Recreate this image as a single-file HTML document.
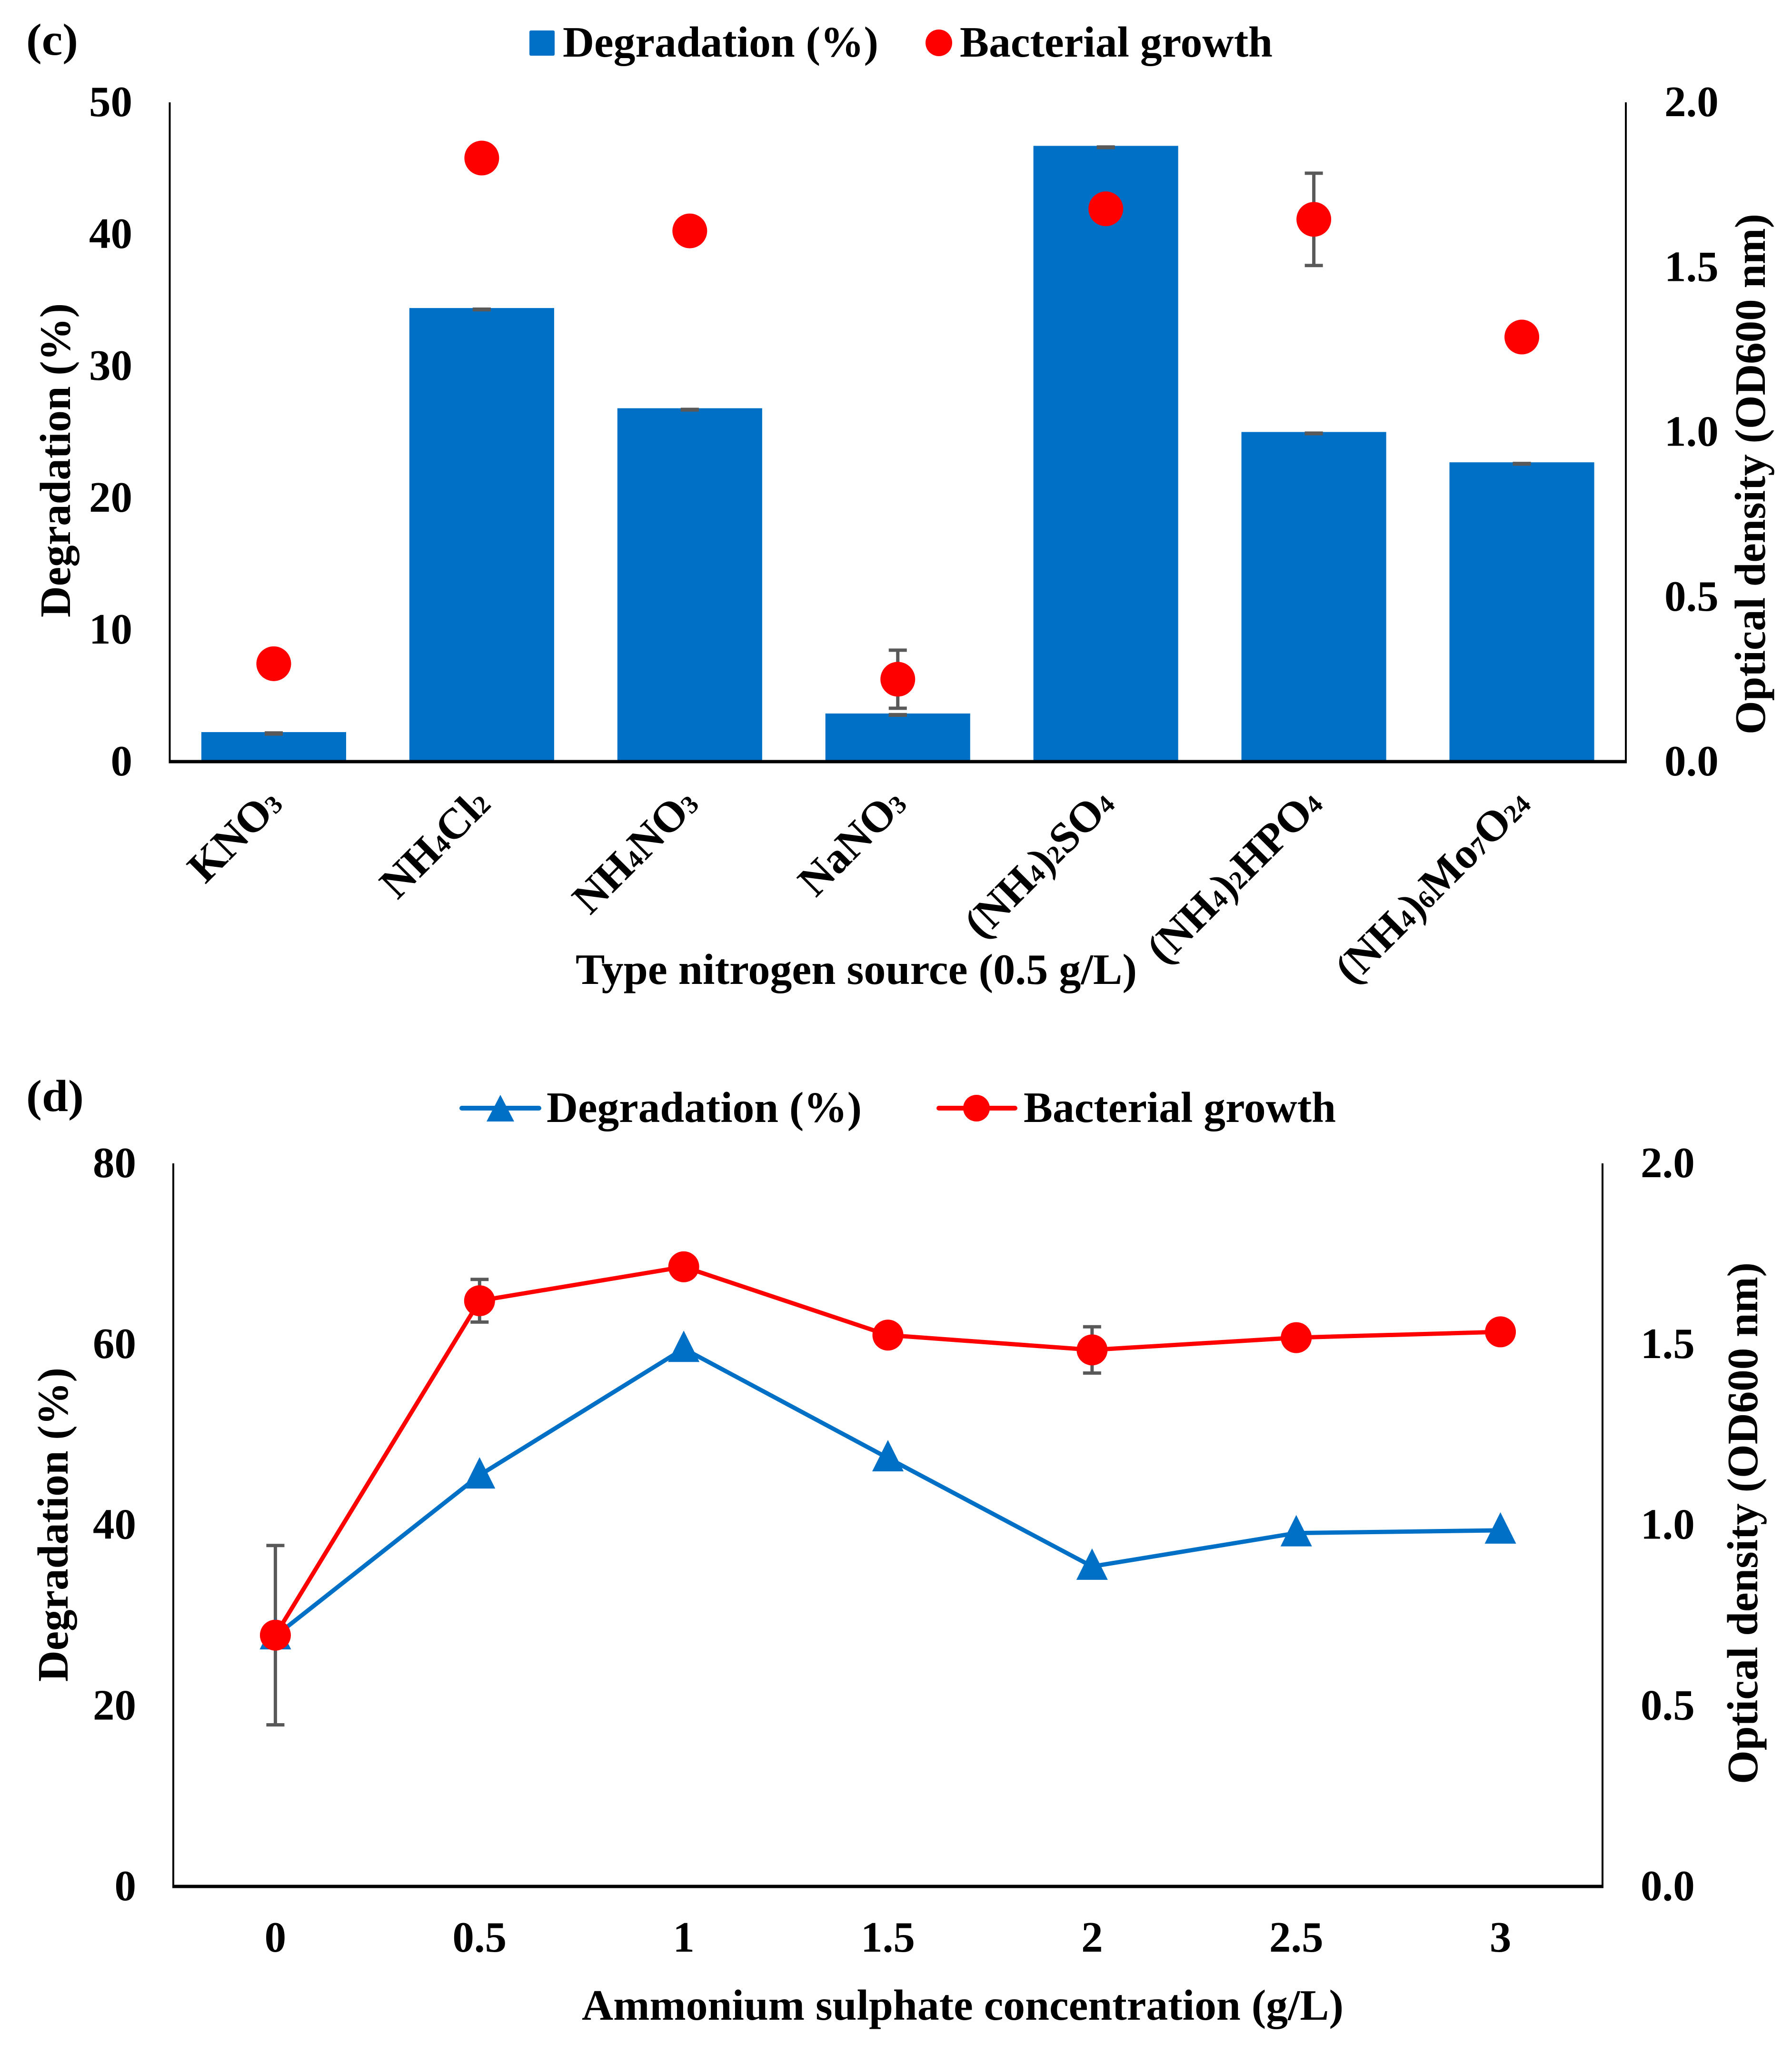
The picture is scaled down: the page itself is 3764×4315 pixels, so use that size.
<!DOCTYPE html>
<html lang="en">
<head>
<meta charset="utf-8">
<title>Degradation and bacterial growth charts</title>
<style>
html,body{margin:0;padding:0;background:#fff;}
svg{display:block;}
text{font-family:"Liberation Serif",serif;font-weight:bold;font-size:91px;fill:#000;}
</style>
</head>
<body>
<svg id="figure" xmlns="http://www.w3.org/2000/svg" width="3764" height="4315" viewBox="0 0 3764 4315">
  <rect x="0" y="0" width="3764" height="4315" fill="#fff"/>

  <g id="chart-c">
    <text x="55" y="115" style="font-size:94px" textLength="109" lengthAdjust="spacingAndGlyphs">(c)</text>
    <rect x="1112" y="64" width="53" height="53" rx="3" fill="#0070c6"/>
    <text x="1182" y="119" textLength="663" lengthAdjust="spacingAndGlyphs">Degradation (%)</text>
    <circle cx="1972" cy="90" r="28" fill="#ff0000"/>
    <text x="2016" y="119" textLength="657" lengthAdjust="spacingAndGlyphs">Bacterial growth</text>
    <text transform="translate(147 1297) rotate(-90)" textLength="660" lengthAdjust="spacingAndGlyphs">Degradation (%)</text>
    <text transform="translate(3707 1543) rotate(-90)" textLength="1094" lengthAdjust="spacingAndGlyphs">Optical density (OD600 nm)</text>
    <text x="1209" y="2067" textLength="1179" lengthAdjust="spacingAndGlyphs">Type nitrogen source (0.5 g/L)</text>
  </g>

  <g id="chart-d">
    <text x="55" y="2334" style="font-size:94px" textLength="121" lengthAdjust="spacingAndGlyphs">(d)</text>
    <line x1="970" y1="2328" x2="1132" y2="2328" stroke="#0070c6" stroke-width="10" stroke-linecap="round"/>
    <polygon points="1051,2300 1022,2356 1080,2356" fill="#0070c6"/>
    <text x="1148" y="2357" textLength="662" lengthAdjust="spacingAndGlyphs">Degradation (%)</text>
    <line x1="1972" y1="2328" x2="2132" y2="2328" stroke="#ff0000" stroke-width="10" stroke-linecap="round"/>
    <circle cx="2051" cy="2328" r="28" fill="#ff0000"/>
    <text x="2150" y="2357" textLength="656" lengthAdjust="spacingAndGlyphs">Bacterial growth</text>
    <text transform="translate(142 3533) rotate(-90)" textLength="660" lengthAdjust="spacingAndGlyphs">Degradation (%)</text>
    <text transform="translate(3691 3748) rotate(-90)" textLength="1096" lengthAdjust="spacingAndGlyphs">Optical density (OD600 nm)</text>
    <text x="1222" y="4243" textLength="1600" lengthAdjust="spacingAndGlyphs">Ammonium sulphate concentration (g/L)</text>
  </g>
</svg>

<script>
// ----- Chart (c) data -----
var cCategories = [
  [['K',0],['N',0],['O',0],['3',1]],
  [['N',0],['H',0],['4',1],['Cl',0],['2',1]],
  [['N',0],['H',0],['4',1],['N',0],['O',0],['3',1]],
  [['N',0],['a',0],['N',0],['O',0],['3',1]],
  [['(',0],['N',0],['H',0],['4',1],[')',0],['2',1],['S',0],['O',0],['4',1]],
  [['(',0],['N',0],['H',0],['4',1],[')',0],['2',1],['H',0],['P',0],['O',0],['4',1]],
  [['(',0],['N',0],['H',0],['4',1],[')',0],['6',1],['M',0],['o',0],['7',1],['O',0],['24',1]]
];
var cDegradation = [2.24, 34.4, 26.8, 3.65, 46.7, 25.0, 22.7];
var cDegradationErr = [0.06, 0.04, 0.04, 0.04, 0.04, 0.04, 0.04];
var cGrowth = [0.297, 1.831, 1.61, 0.25, 1.677, 1.645, 1.288];
var cGrowthErr = [0, 0, 0, 0.088, 0, 0.14, 0];
var cLeftTicks = [0, 10, 20, 30, 40, 50];
var cRightTicks = ['0.0', '0.5', '1.0', '1.5', '2.0'];

// ----- Chart (d) data -----
var dCategories = ['0', '0.5', '1', '1.5', '2', '2.5', '3'];
var dDegradation = [27.7, 45.5, 59.5, 47.4, 35.4, 39.1, 39.4];
var dGrowth = [0.695, 1.62, 1.714, 1.525, 1.484, 1.518, 1.534];
var dGrowthErr = [0.248, 0.059, 0, 0, 0.064, 0, 0];
var dLeftTicks = [0, 20, 40, 60, 80];
var dRightTicks = ['0.0', '0.5', '1.0', '1.5', '2.0'];

var NS = 'http://www.w3.org/2000/svg';
var BLUE = '#0070c6', RED = '#ff0000', GRAY = '#595959';

function mk(parent, tag, geom) {
  var el = document.createElementNS(NS, tag);
  for (var k in geom) { el.setAttribute(k, geom[k]); }
  parent.appendChild(el);
  return el;
}

function drawErr(parent, x, yHi, yLo, capW, capH, lineW) {
  var g = mk(parent, 'g', {});
  
  
  var stem = mk(g, 'line', {x1: x, y1: yHi, x2: x, y2: yLo, stroke: GRAY, 'stroke-width': lineW});
  
  
  var capTop = mk(g, 'line', {x1: x - capW / 2, y1: yHi, x2: x + capW / 2, y2: yHi, stroke: GRAY, 'stroke-width': capH});
  
  
  var capBot = mk(g, 'line', {x1: x - capW / 2, y1: yLo, x2: x + capW / 2, y2: yLo, stroke: GRAY, 'stroke-width': capH});
  
  
}

function drawAxes(parent, L, R, T, B, thin, thick) {
  var left = mk(parent, 'line', {x1: L, y1: T, x2: L, y2: B + thick / 2, stroke: '#000', 'stroke-width': thin});
  
  
  var right = mk(parent, 'line', {x1: R, y1: T, x2: R, y2: B + thick / 2, stroke: '#000', 'stroke-width': thin});
  
  
  var bottom = mk(parent, 'line', {x1: L - thin / 2, y1: B, x2: R + thin / 2, y2: B, stroke: '#000', 'stroke-width': thick});
  
  
}

function drawTick(parent, x, y, label, anchor, name) {
  var t = mk(parent, 'text', {x: x, y: y, 'text-anchor': anchor});
  t.textContent = label;
  
  
}

// ----- Draw chart (c) -----
(function () {
  var g = document.getElementById('chart-c');
  var L = 356.5, R = 3415, T = 215, B = 1600;
  var band = (R - L) / cCategories.length;
  var barW = band * 0.696;
  function xPos(i) { return L + band * (i + 0.5); }
  function yLeft(v) { return B - (v / 50) * (B - T); }
  function yRight(v) { return B - (v / 2) * (B - T); }

  cDegradation.forEach(function (v, i) {
    var bar = mk(g, 'rect', {x: xPos(i) - barW / 2, y: yLeft(v), width: barW, height: B - yLeft(v), fill: BLUE});
    
    
  });
  cDegradationErr.forEach(function (e, i) {
    drawErr(g, xPos(i), yLeft(cDegradation[i] + e) + 3, yLeft(cDegradation[i] - e) + 3, 38, 6, 5);
  });
  drawAxes(g, L, R, T, B, 4, 7);
  cGrowthErr.forEach(function (e, i) {
    if (e > 0) { drawErr(g, xPos(i), yRight(cGrowth[i] + e), yRight(cGrowth[i] - e), 38, 7, 7); }
  });
  cGrowth.forEach(function (v, i) {
    var c = mk(g, 'circle', {cx: xPos(i), cy: yRight(v), r: 36.5, fill: RED});
    
    
  });
  cLeftTicks.forEach(function (v) {
    drawTick(g, 278, yLeft(v) + 29, String(v), 'end', 'y-tick-left');
  });
  cRightTicks.forEach(function (v) {
    drawTick(g, 3496, yRight(parseFloat(v)) + 29, v, 'start', 'y-tick-right');
  });
  cCategories.forEach(function (parts, i) {
    var ax = xPos(i) + 22, ay = 1693;
    var t = mk(g, 'text', {transform: 'translate(' + ax + ' ' + ay + ') rotate(-45)', 'text-anchor': 'end'});
    
    
    parts.forEach(function (p) {
      var s = mk(t, 'tspan', p[1] ? {style: 'font-size:54px'} : {});
      s.textContent = p[0];
    });
  });
})();

// ----- Draw chart (d) -----
(function () {
  var g = document.getElementById('chart-d');
  var L = 364, R = 3366, T = 2444, B = 3963;
  var band = (R - L) / dCategories.length;
  function xPos(i) { return L + band * (i + 0.5); }
  function yLeft(v) { return B - (v / 80) * (B - T); }
  function yRight(v) { return B - (v / 2) * (B - T); }

  drawAxes(g, L, R, T, B, 4, 7);
  dGrowthErr.forEach(function (e, i) {
    if (e > 0) { drawErr(g, xPos(i), yRight(dGrowth[i] + e), yRight(dGrowth[i] - e), 38, 7, 7); }
  });

  var bluePts = dDegradation.map(function (v, i) { return xPos(i) + ',' + yLeft(v); }).join(' ');
  var blue = mk(g, 'polyline', {points: bluePts, fill: 'none', stroke: BLUE, 'stroke-width': 9, 'stroke-linejoin': 'round'});
  
  
  dDegradation.forEach(function (v, i) {
    var x = xPos(i), y = yLeft(v);
    var tri = mk(g, 'polygon', {points: x + ',' + (y - 38) + ' ' + (x - 33) + ',' + (y + 28) + ' ' + (x + 33) + ',' + (y + 28), fill: BLUE});
    
    
  });

  var redPts = dGrowth.map(function (v, i) { return xPos(i) + ',' + yRight(v); }).join(' ');
  var red = mk(g, 'polyline', {points: redPts, fill: 'none', stroke: RED, 'stroke-width': 9, 'stroke-linejoin': 'round'});
  
  
  dGrowth.forEach(function (v, i) {
    var c = mk(g, 'circle', {cx: xPos(i), cy: yRight(v), r: 32.5, fill: RED});
    
    
  });

  dLeftTicks.forEach(function (v) {
    drawTick(g, 286, yLeft(v) + 29, String(v), 'end', 'y-tick-left');
  });
  dRightTicks.forEach(function (v) {
    drawTick(g, 3446, yRight(parseFloat(v)) + 29, v, 'start', 'y-tick-right');
  });
  dCategories.forEach(function (v, i) {
    drawTick(g, xPos(i), 4100, v, 'middle', 'x-tick-label');
  });
})();
</script>
</body>
</html>
